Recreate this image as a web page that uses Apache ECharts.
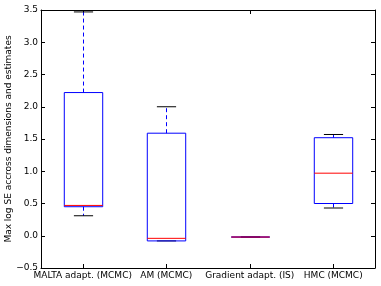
<!DOCTYPE html>
<html><head><meta charset="utf-8">
<script src="https://cdn.jsdelivr.net/npm/echarts@6/dist/echarts.min.js"></script>
<style>html,body{margin:0;padding:0;background:#fff}#c{width:381px;height:286px}</style>
</head><body><div id="c"></div>
<script>
var categories = ["MALTA adapt. (MCMC)", "AM (MCMC)", "Gradient adapt. (IS)", "HMC (MCMC)"];
var whiskerLow = [0.31, -0.08, -0.02, 0.43];
var q1 = [0.45, -0.08, -0.02, 0.50];
var median = [0.47, -0.04, -0.02, 0.97];
var q3 = [2.22, 1.59, -0.02, 1.52];
var whiskerHigh = [3.47, 2.00, -0.02, 1.57];
var yTicks = { min: -0.5, max: 3.5, step: 0.5 };
var yTitle = "Max log SE accross dimensions and estimates";

var data = categories.map(function (c, i) {
  return [i, whiskerLow[i], q1[i], median[i], q3[i], whiskerHigh[i]];
});

var FONT = "DejaVu Sans";
var chart = echarts.init(document.getElementById('c'), null, { renderer: 'canvas' });

function renderItem(params, api) {
  var i = api.value(0);
  var band = api.size([1, 0])[0];
  var bw = band * 0.46;
  var cw = bw * 0.5;
  var pMin = api.coord([i, api.value(1)]);
  var pQ1 = api.coord([i, api.value(2)]);
  var pMed = api.coord([i, api.value(3)]);
  var pQ3 = api.coord([i, api.value(4)]);
  var pMax = api.coord([i, api.value(5)]);
  var x = Math.round(pMed[0]) + 0.5;
  var blue = '#0000ff';
  var dash = { stroke: blue, lineWidth: 1, lineDash: [4, 3] };
  return {
    type: 'group',
    children: [
      { type: 'line', shape: { x1: x, y1: pQ3[1], x2: x, y2: pMax[1] }, style: dash },
      { type: 'line', shape: { x1: x, y1: pQ1[1], x2: x, y2: pMin[1] }, style: dash },
      { type: 'line', shape: { x1: x - cw / 2, y1: pMax[1], x2: x + cw / 2, y2: pMax[1] }, style: { stroke: '#000', lineWidth: 1 } },
      { type: 'line', shape: { x1: x - cw / 2, y1: pMin[1], x2: x + cw / 2, y2: pMin[1] }, style: { stroke: '#000', lineWidth: 1 } },
      { type: 'rect', shape: { x: x - bw / 2, y: pQ3[1], width: bw, height: pQ1[1] - pQ3[1] }, style: { fill: 'none', stroke: blue, lineWidth: 1 } },
      { type: 'line', shape: { x1: x - bw / 2, y1: pMed[1], x2: x + bw / 2, y2: pMed[1] }, style: { stroke: '#ff0000', lineWidth: 1 } }
    ]
  };
}

var axisLine = { show: true, onZero: false, lineStyle: { color: '#000', width: 1 } };
var tickIn = { show: true, inside: true, length: 4, lineStyle: { color: '#000', width: 1 } };

chart.setOption({
  animation: false,
  backgroundColor: '#fff',
  grid: { left: 41, right: 6, top: 10, bottom: 18, containLabel: false, outerBoundsMode: 'none' },
  xAxis: [
    { type: 'category', data: categories, position: 'bottom', boundaryGap: true,
      axisLine: axisLine, axisTick: Object.assign({ alignWithLabel: true }, tickIn),
      axisLabel: { color: '#000', fontFamily: FONT, fontSize: 9, margin: 3, interval: 0 },
      splitLine: { show: false } },
    { type: 'category', data: categories, position: 'top', boundaryGap: true,
      axisLine: axisLine, axisTick: Object.assign({ alignWithLabel: true }, tickIn),
      axisLabel: { show: false }, splitLine: { show: false } }
  ],
  yAxis: [
    { type: 'value', min: yTicks.min, max: yTicks.max, interval: yTicks.step, position: 'left',
      axisLine: axisLine, axisTick: tickIn, splitLine: { show: false },
      axisLabel: { color: '#000', fontFamily: FONT, fontSize: 9, margin: 3,
        formatter: function (v) { return v.toFixed(1).replace('-', '\u2212'); } },
      name: yTitle, nameLocation: 'middle', nameRotate: 90, nameGap: 28, nameMoveOverlap: false,
      nameTextStyle: { color: '#000', fontFamily: FONT, fontSize: 9 } },
    { type: 'value', min: yTicks.min, max: yTicks.max, interval: yTicks.step, position: 'right',
      axisLine: axisLine, axisTick: tickIn, splitLine: { show: false }, axisLabel: { show: false } }
  ],
  series: [{
    type: 'custom',
    renderItem: renderItem,
    encode: { x: 0, y: [1, 2, 3, 4, 5] },
    data: data,
    clip: false
  }]
});
</script>
</body></html>
